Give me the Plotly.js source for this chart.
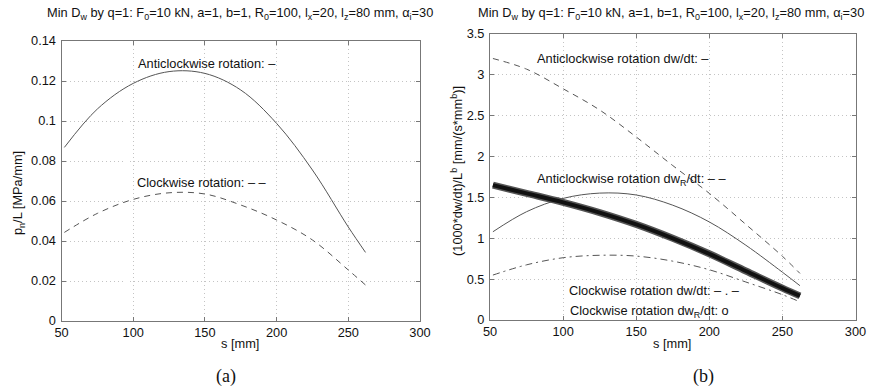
<!DOCTYPE html>
<html>
<head>
<meta charset="utf-8">
<script src="https://cdn.plot.ly/plotly-3.0.1.min.js"></script>
<style>html,body{margin:0;padding:0;background:#fff;}#chart{width:880px;height:391px;}</style>
</head>
<body>
<div id="chart"></div>
<script>
// ---- data ----
const sLeft = [52, 75, 100, 125, 150, 175, 200, 225, 250, 262];
const pAnti = [0.0868, 0.106, 0.1188, 0.1247, 0.1238, 0.1155, 0.0988, 0.0755, 0.047, 0.0343];
const pClock = [0.0443, 0.0538, 0.0608, 0.0641, 0.0635, 0.058, 0.0505, 0.0405, 0.0255, 0.018];

const sRight = [52, 75, 100, 125, 150, 175, 200, 225, 250, 262];
const dwAnti = [3.20, 3.07, 2.83, 2.57, 2.24, 1.89, 1.55, 1.17, 0.78, 0.57];
const dwRAnti = [1.08, 1.325, 1.488, 1.553, 1.53, 1.405, 1.20, 0.915, 0.585, 0.42];
const dwClock = [0.55, 0.675, 0.762, 0.792, 0.782, 0.72, 0.615, 0.465, 0.31, 0.222];
const dwRClock = [1.65, 1.55, 1.44, 1.315, 1.17, 1.00, 0.81, 0.60, 0.39, 0.295];

const xTicks = [50, 100, 150, 200, 250, 300];
const yTicksLeft = [0, 0.02, 0.04, 0.06, 0.08, 0.1, 0.12, 0.14];
const yTickTextLeft = ['0', '0.02', '0.04', '0.06', '0.08', '0.1', '0.12', '0.14'];
const yTicksRight = [0, 0.5, 1, 1.5, 2, 2.5, 3, 3.5];
const yTickTextRight = ['0', '0.5', '1', '1.5', '2', '2.5', '3', '3.5'];

const titleText = 'Min D<sub>w</sub> by q=1: F<sub>0</sub>=10 kN, a=1, b=1, R<sub>0</sub>=100, l<sub>x</sub>=20, l<sub>z</sub>=80 mm, α<sub>i</sub>=30';

// ---- styling ----
const FONT = 'Liberation Sans, Arial, Helvetica, sans-serif';
const lineCol = '#555';
const W = 880, H = 391;
const px = v => v / W;
const py = v => 1 - v / H;

const traces = [
  {x: sLeft, y: pAnti, xaxis: 'x', yaxis: 'y', mode: 'lines', line: {color: lineCol, width: 1, shape: 'spline'}},
  {x: sLeft, y: pClock, xaxis: 'x', yaxis: 'y', mode: 'lines', line: {color: lineCol, width: 1, dash: '6px,5px', shape: 'spline'}},
  {x: sRight, y: dwAnti, xaxis: 'x2', yaxis: 'y2', mode: 'lines', line: {color: lineCol, width: 1, dash: '6px,5px', shape: 'spline'}},
  {x: sRight, y: dwRAnti, xaxis: 'x2', yaxis: 'y2', mode: 'lines', line: {color: lineCol, width: 1, shape: 'spline'}},
  {x: sRight, y: dwClock, xaxis: 'x2', yaxis: 'y2', mode: 'lines', line: {color: lineCol, width: 1, dash: '7px,4px,2px,4px', shape: 'spline'}},
  {x: sRight, y: dwRClock, xaxis: 'x2', yaxis: 'y2', mode: 'lines', line: {color: '#555', width: 7, shape: 'spline'}},
  {x: sRight, y: dwRClock, xaxis: 'x2', yaxis: 'y2', mode: 'lines', line: {color: '#111', width: 4, shape: 'spline'}}
];

function xax(domain) {
  return {
    domain: domain, range: [50, 300], tickvals: xTicks, ticktext: xTicks.map(String),
    ticks: 'inside', ticklen: 4, tickcolor: '#777', showline: true, linecolor: '#777', linewidth: 1,
    mirror: 'ticks', showgrid: true, gridcolor: '#c4c4c4', griddash: '1px,3px', gridwidth: 1,
    zeroline: false, tickfont: {family: FONT, size: 12.8, color: '#111'}, fixedrange: true
  };
}
function yax(domain, anchor, range, vals, text) {
  return {
    domain: domain, anchor: anchor, range: range, tickvals: vals, ticktext: text,
    ticks: 'inside', ticklen: 4, tickcolor: '#777', showline: true, linecolor: '#777', linewidth: 1,
    mirror: 'ticks', showgrid: true, gridcolor: '#c4c4c4', griddash: '1px,3px', gridwidth: 1,
    zeroline: false, tickfont: {family: FONT, size: 12.8, color: '#111'}, ticklabelstandoff: 2, fixedrange: true
  };
}

function ann(text, x, y, opts) {
  return Object.assign({text: text, x: px(x), y: py(y), xref: 'paper', yref: 'paper',
    showarrow: false, xanchor: 'center', yanchor: 'middle',
    font: {family: FONT, size: 12.8, color: '#111'}}, opts || {});
}

const layout = {
  width: W, height: H, margin: {l: 0, r: 0, t: 0, b: 0},
  paper_bgcolor: '#fff', plot_bgcolor: '#fff', showlegend: false,
  xaxis: Object.assign(xax([px(61.5), px(420)]), {anchor: 'y'}),
  yaxis: yax([py(321), py(41)], 'x', [0, 0.14], yTicksLeft, yTickTextLeft),
  xaxis2: Object.assign(xax([px(490), px(855.5)]), {anchor: 'y2'}),
  yaxis2: yax([py(320), py(34)], 'x2', [0, 3.5], yTicksRight, yTickTextRight),
  annotations: [
    ann(titleText, 240, 14),
    ann(titleText, 671, 14),
    ann('s [mm]', 240, 343),
    ann('s [mm]', 672, 343),
    ann('p<sub>n</sub>/L [MPa/mm]', 19, 193, {textangle: -90}),
    ann('(1000*dw/dt)/L<sup>b</sup> [mm/(s*mm<sup>b</sup>)]', 457, 171, {textangle: -90}),
    ann('Anticlockwise rotation: –', 136, 63, {xanchor: 'left'}),
    ann('Clockwise rotation: – –', 135, 183, {xanchor: 'left'}),
    ann('Anticlockwise rotation dw/dt: –', 535, 58, {xanchor: 'left'}),
    ann('Anticlockwise rotation dw<sub>R</sub>/dt: – –', 535, 180, {xanchor: 'left'}),
    ann('Clockwise rotation dw/dt: – . –', 567, 290, {xanchor: 'left'}),
    ann('Clockwise rotation dw<sub>R</sub>/dt: o', 568, 311, {xanchor: 'left'}),
    ann('(a)', 226, 376, {font: {family: 'Liberation Serif, DejaVu Serif, serif', size: 18, color: '#111'}}),
    ann('(b)', 703, 376, {font: {family: 'Liberation Serif, DejaVu Serif, serif', size: 18, color: '#111'}})
  ]
};

Plotly.newPlot('chart', traces, layout, {displayModeBar: false, staticPlot: true});
</script>
</body>
</html>
